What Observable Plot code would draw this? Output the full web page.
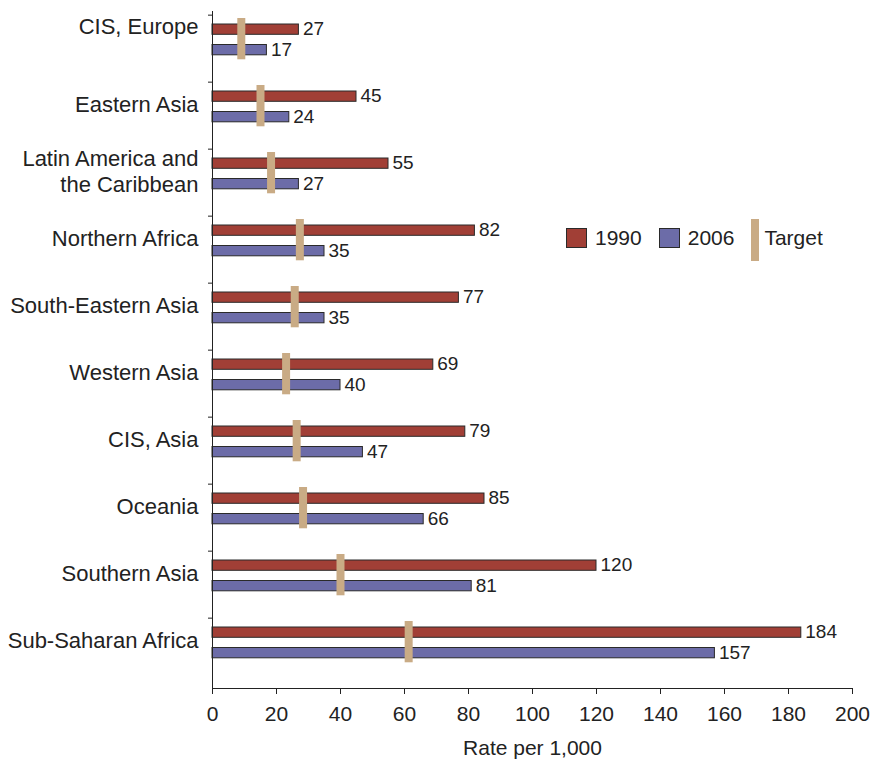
<!DOCTYPE html>
<html>
<head>
<meta charset="utf-8">
<script src="https://cdn.jsdelivr.net/npm/d3@7"></script>
<script src="https://cdn.jsdelivr.net/npm/@observablehq/plot@0.6"></script>
<style>
  body { margin: 0; background: #fff; }
  #wrap { position: relative; width: 873px; height: 759px; font-family: "Liberation Sans", Arial, sans-serif; color: #222; }
  #legend { position: absolute; left: 566px; top: 219px; height: 42px; display: flex; align-items: center; font-size: 21px; }
  #legend .sw { width: 21px; height: 20px; border: 1px solid #2a2a2a; box-sizing: border-box; display: inline-block; margin-right: 8px; position: relative; top: -2px; }
  #legend .item { display: flex; align-items: center; margin-right: 17px; }
  #legend .item span.t { position: relative; top: -2px; }
  #legend .tgt { width: 8px; height: 42px; background: #c9ab85; display: inline-block; margin-right: 5px; }
</style>
</head>
<body>
<div id="wrap">
  <div id="chart"></div>
  <div id="legend">
    <span class="item"><span class="sw" style="background:#a13f36"></span><span class="t">1990</span></span>
    <span class="item"><span class="sw" style="background:#6c6ca8"></span><span class="t">2006</span></span>
    <span class="item"><span class="tgt"></span><span class="t">Target</span></span>
  </div>
</div>
<script>
// Under-five mortality by region, rate per 1,000 live births
const regions = [
  "CIS, Europe",
  "Eastern Asia",
  "Latin America and the Caribbean",
  "Northern Africa",
  "South-Eastern Asia",
  "Western Asia",
  "CIS, Asia",
  "Oceania",
  "Southern Asia",
  "Sub-Saharan Africa"
];
const rate1990 = [27, 45, 55, 82, 77, 69, 79, 85, 120, 184];
const rate2006 = [17, 24, 27, 35, 35, 40, 47, 66, 81, 157];
const target2015 = [9, 15, 18.3, 27.3, 25.7, 23, 26.3, 28.3, 40, 61.3];
const xTicks = [0, 20, 40, 60, 80, 100, 120, 140, 160, 180, 200];

const rows = regions.map((region, i) => ({
  region, r1990: rate1990[i], r2006: rate2006[i], target: target2015[i]
}));

const width = 873, height = 759;
const marginTop = 11, marginBottom = 71, marginLeft = 212, marginRight = 21;
const bw = (height - marginTop - marginBottom) / regions.length;

const labelText = d => d === "Latin America and the Caribbean" ? "Latin America and\nthe Caribbean" : d;
const labelOpts = { tickSize: 0, tickPadding: 14, fontSize: 22, lineHeight: 1.15, tickFormat: labelText, label: null };

const chart = Plot.plot({
  width, height, marginTop, marginBottom, marginLeft, marginRight,
  style: { fontFamily: "Liberation Sans, Arial, sans-serif", fontSize: "19px", color: "#222", background: "#fff" },
  x: { domain: [0, 200] },
  y: { type: "band", domain: regions, padding: 0, label: null },
  marks: [
    Plot.axisX({ ticks: xTicks, tickSize: 6, tickPadding: 12, fontSize: 21, label: "Rate per 1,000", labelAnchor: "center", labelArrow: "none", labelOffset: 66 }),
    Plot.axisY({ tickSize: 4, tickFormat: () => "", dy: -bw / 2, label: null }),
    Plot.axisY({ ...labelOpts, ticks: regions.slice(0, 1), dy: -23 }),
    Plot.axisY({ ...labelOpts, ticks: regions.slice(1), dy: -12 }),
    Plot.barX(rows, { x: "r1990", y: "region", fill: "#a13f36", stroke: "#2a2a2a", strokeWidth: 1, insetTop: 9, insetBottom: bw - 20 }),
    Plot.barX(rows, { x: "r2006", y: "region", fill: "#6c6ca8", stroke: "#2a2a2a", strokeWidth: 1, insetTop: 29.5, insetBottom: bw - 40.5 }),
    Plot.tickX(rows, { x: "target", y: "region", stroke: "#c9ab85", strokeWidth: 8, insetTop: 3, insetBottom: bw - 45 }),
    Plot.text(rows, { x: "r1990", y: "region", text: d => String(d.r1990), textAnchor: "start", dx: 4, dy: 13.5 - bw / 2, fontSize: 19, fill: "#222" }),
    Plot.text(rows, { x: "r2006", y: "region", text: d => String(d.r2006), textAnchor: "start", dx: 4, dy: 35 - bw / 2, fontSize: 19, fill: "#222" }),
    Plot.ruleX([0], { stroke: "#222" }),
    Plot.frame({ anchor: "bottom", stroke: "#222" })
  ]
});
document.getElementById("chart").appendChild(chart);
</script>
</body>
</html>
